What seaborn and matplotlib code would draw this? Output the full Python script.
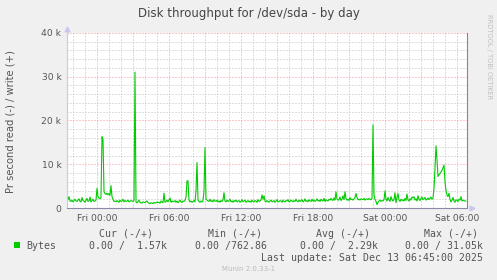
import numpy as np
import pandas as pd
import matplotlib
matplotlib.use("Agg")
import matplotlib.pyplot as plt
import matplotlib.dates as mdates
from matplotlib.ticker import FuncFormatter, MultipleLocator
import seaborn as sns

# ---- data (write bytes per second, in thousands, 5-minute samples from Thu 21:30) ----
write_k = [
    1.7, 1.9, 2.6, 1.6, 1.5, 1.8, 1.4, 1.7, 2.0, 1.6, 1.5, 1.8,
    2.1, 1.5, 1.4, 2.4, 1.7, 1.6, 1.3, 1.8, 2.2, 1.5, 1.6, 2.5,
    1.4, 1.7, 2.0, 1.5, 1.6, 1.8, 4.5, 2.6, 2.3, 2.1, 2.4, 16.3,
    15.6, 3.8, 3.3, 3.1, 3.4, 3.0, 3.3, 2.9, 5.1, 2.6, 2.0, 1.5,
    1.6, 1.4, 1.7, 1.5, 1.3, 1.8, 1.5, 1.6, 2.0, 1.4, 1.7, 1.5,
    1.6, 1.8, 1.4, 1.5, 1.7, 1.6, 1.5, 1.8, 31.05, 1.3, 1.2, 1.5,
    1.8, 1.3, 1.2, 1.1, 1.4, 1.3, 1.2, 1.5, 1.6, 1.2, 1.1, 1.0,
    1.2, 1.1, 1.0, 1.3, 1.1, 1.2, 1.4, 1.2, 1.3, 1.1, 1.6, 1.3,
    1.2, 3.4, 1.3, 1.5, 1.8, 1.4, 1.9, 2.3, 1.3, 1.6, 1.4, 1.5,
    1.7, 1.3, 1.6, 1.2, 1.5, 1.8, 1.4, 1.3, 1.6, 1.5, 1.7, 2.5,
    6.2, 6.2, 1.8, 1.4, 1.6, 1.3, 1.5, 1.7, 1.4, 4.0, 10.4, 1.8,
    1.5, 1.3, 1.6, 1.4, 1.7, 4.0, 13.8, 2.0, 1.8, 1.6, 1.5, 2.0,
    1.5, 1.7, 1.4, 1.9, 1.6, 1.5, 1.8, 1.4, 1.6, 1.3, 1.7, 1.5,
    1.9, 3.5, 1.6, 1.4, 1.8, 1.5, 1.7, 2.0, 1.4, 1.6, 1.3, 1.7,
    1.5, 1.8, 1.4, 1.6, 1.7, 1.3, 1.5, 1.9, 1.4, 1.6, 1.8, 1.3,
    1.5, 1.7, 1.4, 1.6, 1.3, 1.8, 1.5, 1.4, 1.7, 1.6, 1.3, 1.9,
    1.5, 1.6, 1.8, 3.0, 2.0, 2.8, 1.6, 1.4, 1.7, 1.5, 1.3, 1.6,
    1.8, 1.4, 1.5, 1.7, 1.3, 1.6, 1.9, 1.4, 1.5, 1.7, 1.6, 1.3,
    1.8, 1.5, 1.4, 1.7, 1.6, 1.9, 1.4, 1.5, 1.8, 1.6, 1.4, 1.7,
    1.5, 2.0, 1.6, 1.4, 1.8, 1.5, 1.7, 1.9, 1.4, 1.6, 2.1, 1.5,
    1.7, 1.4, 1.9, 1.6, 1.5, 2.0, 1.6, 1.8, 1.5, 1.7, 2.1, 1.6,
    1.8, 1.5, 2.0, 1.7, 1.6, 2.2, 1.5, 1.9, 1.7, 1.6, 2.0, 1.8,
    2.2, 1.9, 1.7, 2.3, 1.8, 3.7, 2.0, 1.8, 1.9, 2.5, 1.7, 2.0,
    2.8, 1.9, 3.7, 2.1, 1.8, 2.0, 1.7, 2.4, 1.9, 2.0, 1.8, 2.1,
    2.4, 3.3, 2.4, 1.9, 2.0, 1.8, 2.1, 2.0, 1.9, 2.2, 1.8, 2.0,
    2.1, 1.9, 2.2, 2.0, 1.9, 2.2, 19.0, 3.0, 2.0, 1.5, 0.76, 1.3,
    1.6, 1.8, 1.5, 1.7, 1.6, 1.9, 3.9, 2.0, 1.6, 2.4, 1.8, 1.5,
    2.6, 1.9, 1.6, 2.0, 3.5, 1.2, 2.4, 3.3, 1.8, 1.5, 2.0, 1.7,
    1.9, 1.6, 2.2, 1.7, 3.2, 1.9, 1.6, 2.1, 1.8, 2.5, 2.3, 2.6,
    1.8, 2.1, 1.6, 2.8, 2.0, 1.7, 2.2, 2.5, 1.9, 2.1, 2.4, 1.8,
    2.0, 2.3, 1.9, 2.2, 2.5, 2.0, 2.3, 4.5, 9.0, 14.2, 11.0, 7.2,
    7.6, 7.9, 8.2, 8.6, 9.2, 9.8, 6.0, 4.0, 3.0, 2.6, 3.4, 2.0,
    1.4, 1.8, 2.4, 1.6, 1.3, 1.9, 1.7, 1.5, 2.0, 1.8, 2.6, 1.6,
    1.8, 1.7, 1.6, 1.57,
]
start_time = "2025-12-11 21:30"
sample_minutes = 5
window_samples = 400

y_ticks = [0, 10000, 20000, 30000, 40000]
y_tick_labels = ["0", "10 k", "20 k", "30 k", "40 k"]

title = "Disk throughput for /dev/sda - by day"
ylabel = "Pr second read (-) / write (+)"
legend_headers = ["Cur (-/+)", "Min (-/+)", "Avg (-/+)", "Max (-/+)"]
legend_label = "Bytes"
legend_values = ["0.00 /  1.57k", "0.00 /762.86", "0.00 /  2.29k", "0.00 / 31.05k"]
last_update = "Last update: Sat Dec 13 06:45:00 2025"
munin_version = "Munin 2.0.33-1"
rrd_credit = "RRDTOOL / TOBI OETIKER"

LINE_COLOR = "#00cc00"
TEXT_COLOR = "#555555"

sns.set_theme(style="white")
plt.rcParams["font.family"] = ["DejaVu Sans"]

W, H = 497, 280
fig = plt.figure(figsize=(W / 100, H / 100), dpi=100, facecolor="#f0f0f0")

def fx(x):
    return x / W

def fy(y):
    return 1 - y / H

ax = fig.add_axes([fx(67), fy(208), 400 / W, 175 / H])
ax.set_facecolor("white")

df = pd.DataFrame({
    "time": pd.date_range(start_time, periods=len(write_k), freq=f"{sample_minutes}min"),
    "bytes": np.array(write_k) * 1000.0,
})
sns.lineplot(data=df, x="time", y="bytes", color=LINE_COLOR, linewidth=0.8, ax=ax)

t0 = pd.Timestamp(start_time)
ax.set_xlim(t0, t0 + pd.Timedelta(minutes=sample_minutes * window_samples))
ax.set_ylim(0, 40000)

# y axis
ax.set_yticks(y_ticks)
ax.set_yticklabels(y_tick_labels)
ax.yaxis.set_minor_locator(MultipleLocator(2000))

# x axis
ax.xaxis.set_major_locator(mdates.HourLocator(byhour=range(0, 24, 3)))
ax.xaxis.set_minor_locator(mdates.HourLocator())

def xfmt(v, pos):
    d = mdates.num2date(v)
    if d.hour % 6 == 0:
        return d.strftime("%a %H:%M")
    return ""

ax.xaxis.set_major_formatter(FuncFormatter(xfmt))

ax.set_xlabel("")
ax.set_ylabel("")

ax.grid(which="major", color="#f29a9a", linestyle=(0, (1, 2)), linewidth=0.72)
ax.grid(which="minor", color="#c0c0c0", linestyle=(0, (1, 2)), linewidth=0.72)
ax.set_axisbelow(True)

ax.tick_params(axis="both", which="major", labelsize=6.6, labelcolor=TEXT_COLOR,
               color="#999999", length=2, width=0.6, pad=2)
ax.tick_params(axis="both", which="minor", length=0)
ax.tick_params(axis="x", which="major", pad=2.5)

ax.spines["top"].set_visible(False)
ax.spines["left"].set_color("#c8c8ee")
ax.spines["left"].set_linewidth(0.8)
ax.spines["bottom"].set_color("#8a8aa8")
ax.spines["bottom"].set_linewidth(0.8)
ax.spines["right"].set_color("#888888")
ax.spines["right"].set_linewidth(0.8)

# axis arrows
ax.plot([0], [1.025], marker="^", color="#c8c8ee", markersize=3.5, transform=ax.transAxes, clip_on=False)
ax.plot([1.012], [0], marker=">", color="#c8c8ee", markersize=3.5, transform=ax.transAxes, clip_on=False)

# texts
fig.text(fx(249), fy(14), title, ha="center", va="center", fontsize=8.5, color="#444444")
fig.text(fx(11), fy(122), ylabel, ha="center", va="center", rotation=90, fontsize=7.2, color=TEXT_COLOR)
fig.text(fx(488.5), fy(57), rrd_credit, ha="center", va="center", rotation=270, fontsize=4.8, color="#c0c0c0")

mono = "DejaVu Sans Mono"
hdr_x = [99, 207.7, 315.7, 423.7]
val_x = [89.3, 195, 300, 405]
for h, x in zip(legend_headers, hdr_x):
    fig.text(fx(x), fy(237), h, ha="left", va="baseline", family=mono, fontsize=7.15, color=TEXT_COLOR)
for v, x in zip(legend_values, val_x):
    fig.text(fx(x), fy(249), v, ha="left", va="baseline", family=mono, fontsize=7.15, color=TEXT_COLOR)
fig.text(fx(26.7), fy(249), legend_label, ha="left", va="baseline", family=mono, fontsize=7.15, color=TEXT_COLOR)
fig.patches.append(plt.Rectangle((fx(14), fy(248)), 6 / W, 6 / H, transform=fig.transFigure,
                                 facecolor=LINE_COLOR, edgecolor="none"))
fig.text(fx(483), fy(260.7), last_update, ha="right", va="baseline", family=mono, fontsize=7.15, color=TEXT_COLOR)
fig.text(fx(248.5), fy(269), munin_version, ha="center", va="center", fontsize=5.0, color="#bbbbbb")

fig.savefig("out.png", dpi=100, facecolor=fig.get_facecolor())
